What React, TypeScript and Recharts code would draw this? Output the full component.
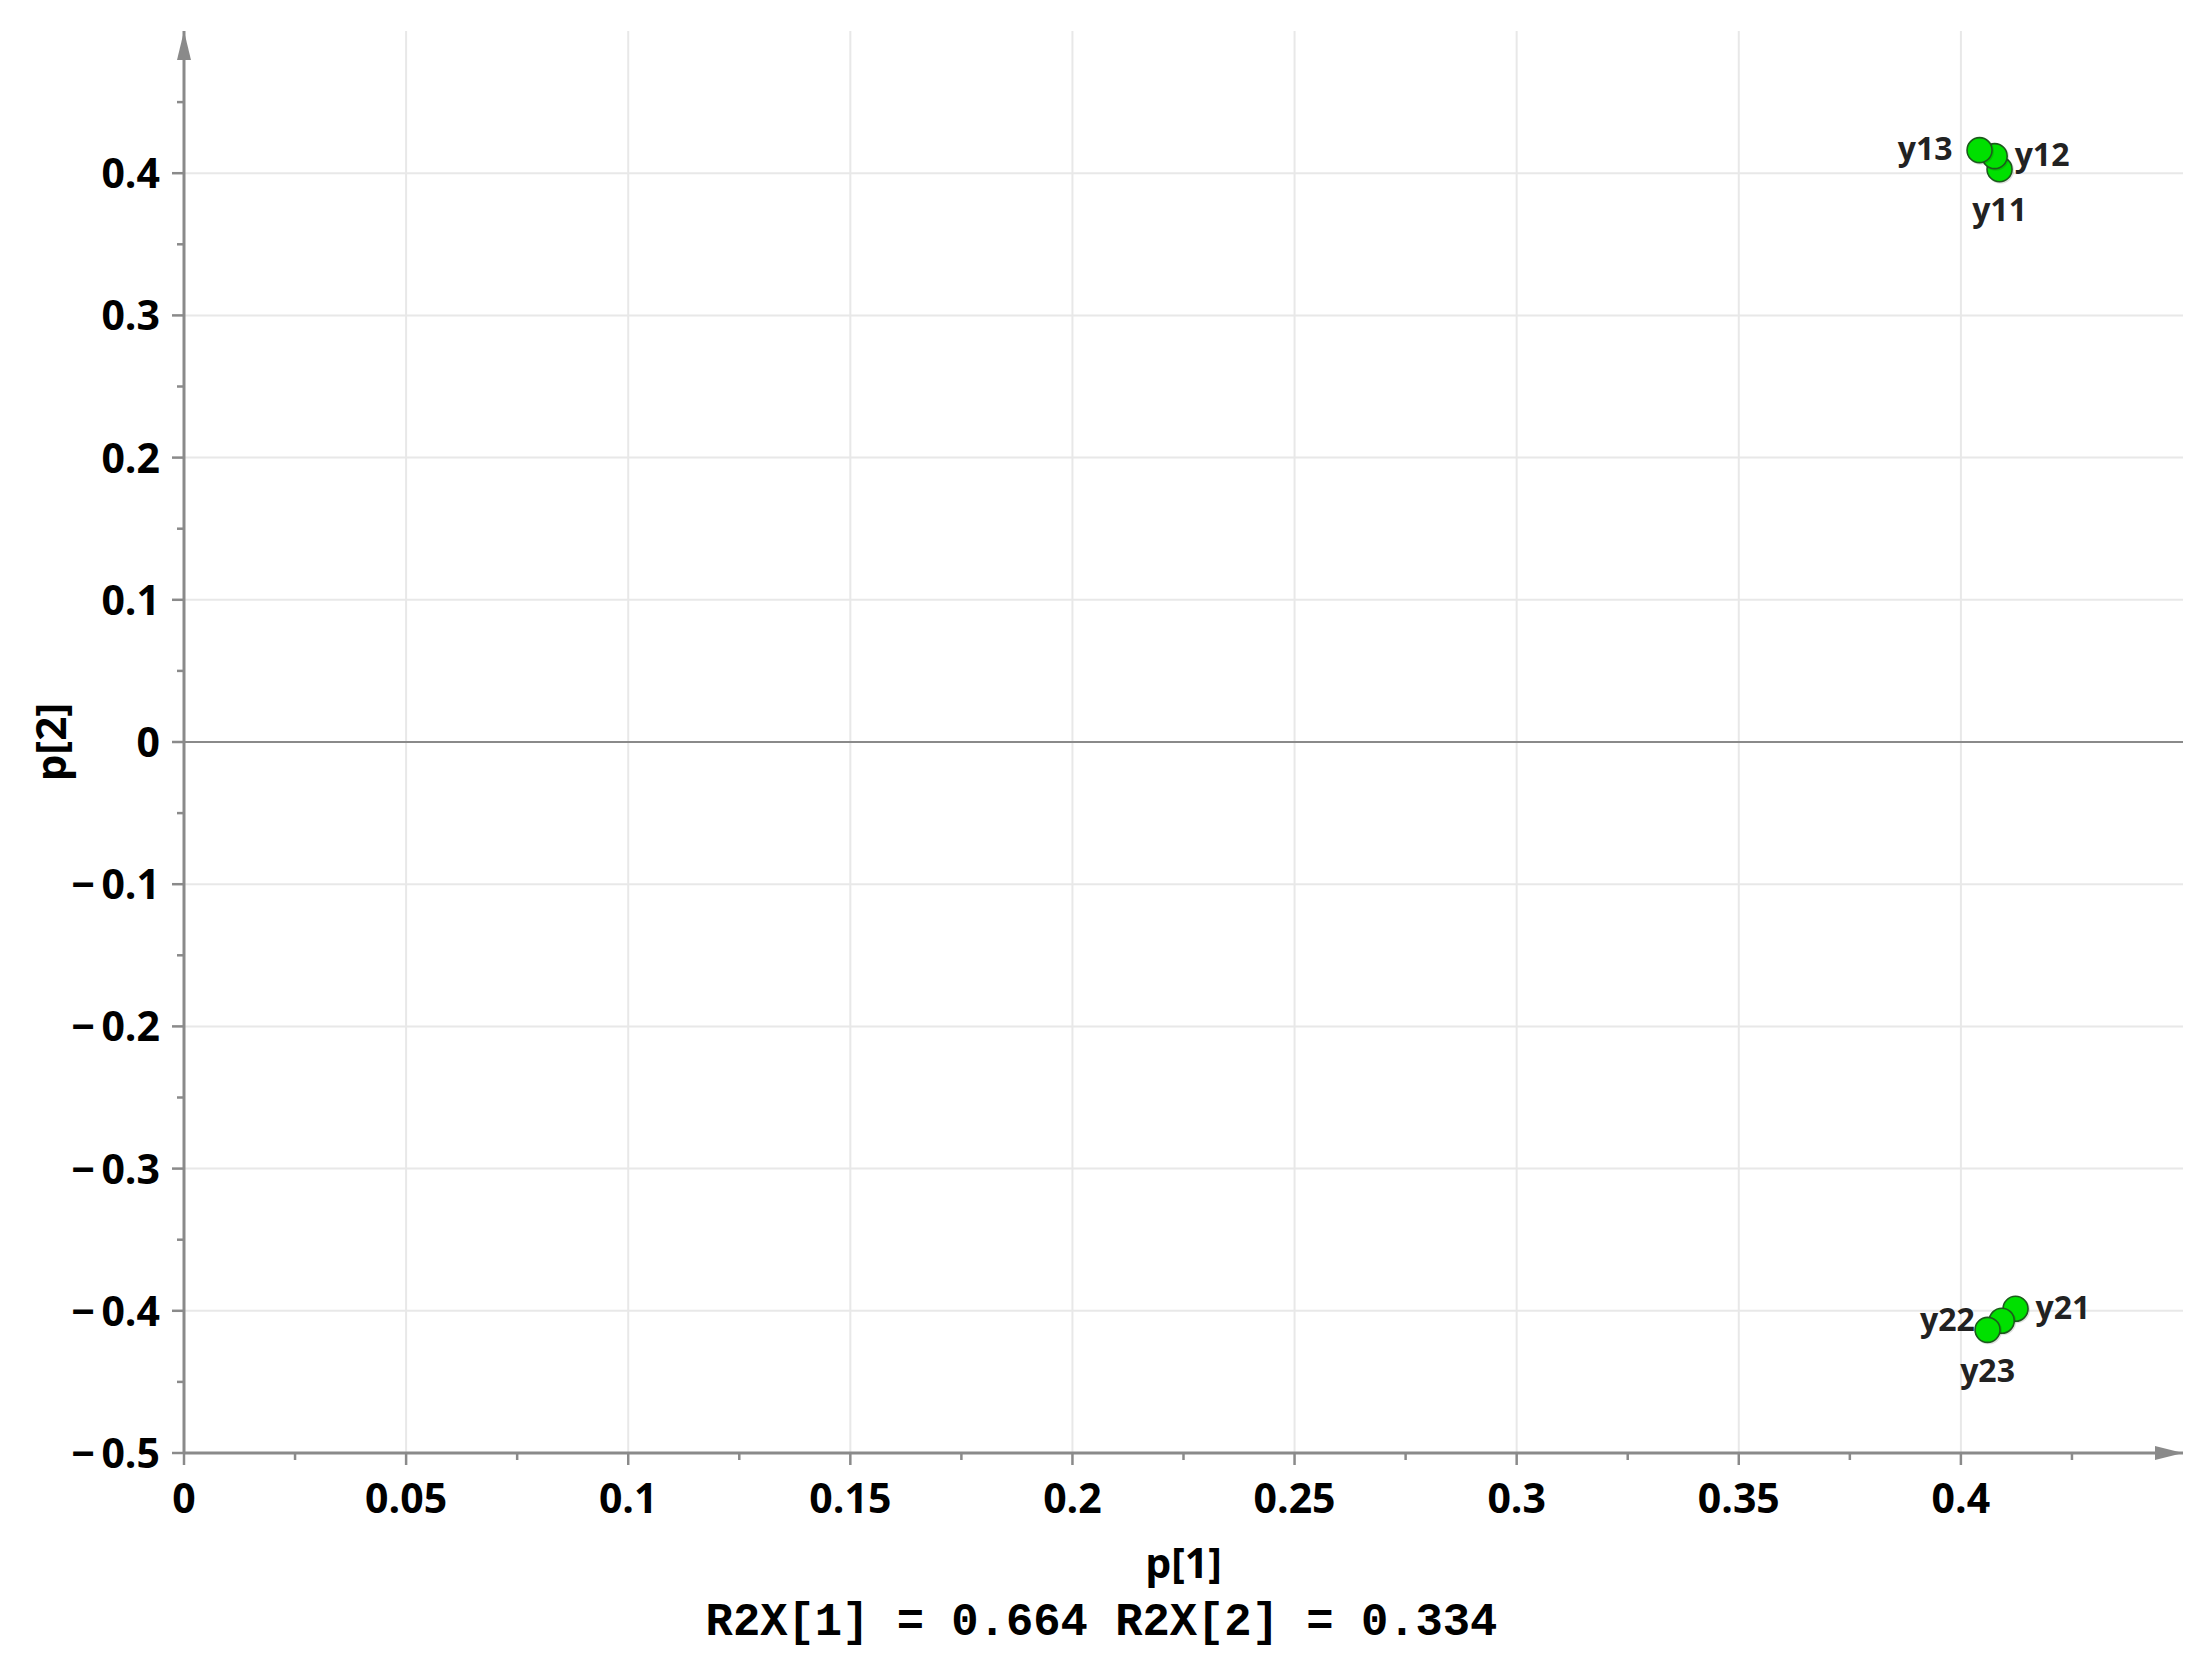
import { ScatterChart, Scatter, XAxis, YAxis, ReferenceLine, ReferenceDot } from 'recharts'

// loadings
const pointNames = ['y11', 'y12', 'y13', 'y21', 'y22', 'y23']
const p1Values = [0.4087, 0.4076, 0.4042, 0.4123, 0.4092, 0.406]
const p2Values = [0.4028, 0.412, 0.4162, -0.3986, -0.407, -0.4134]

const xTicks = [0, 0.025, 0.05, 0.075, 0.1, 0.125, 0.15, 0.175, 0.2, 0.225, 0.25, 0.275, 0.3, 0.325, 0.35, 0.375, 0.4, 0.425]
const xMajor = [0, 0.05, 0.1, 0.15, 0.2, 0.25, 0.3, 0.35, 0.4]
const yTicks = [-0.5, -0.45, -0.4, -0.35, -0.3, -0.25, -0.2, -0.15, -0.1, -0.05, 0, 0.05, 0.1, 0.15, 0.2, 0.25, 0.3, 0.35, 0.4, 0.45]
const yMajor = [-0.5, -0.4, -0.3, -0.2, -0.1, 0, 0.1, 0.2, 0.3, 0.4]

const footnote = 'R2X[1] = 0.664 R2X[2] = 0.334'

const W = 2203
const H = 1662
const AXIS = '#8a8a8a'
const GRID = '#e8e8e8'
const SANS = '"Open Sans", "Noto Sans", sans-serif'

// where each point's name sits relative to its marker
const labelSide: Record<string, 'left' | 'right' | 'below'> = {
  y11: 'below',
  y12: 'right',
  y13: 'left',
  y21: 'right',
  y22: 'left',
  y23: 'below',
}

const data = pointNames.map((name, i) => ({ name, x: p1Values[i], y: p2Values[i] }))

const isMajor = (v: number, list: number[]) => list.some((m) => Math.abs(m - v) < 1e-9)

const fmt = (v: number) => {
  const s = String(Math.round(Math.abs(v) * 1000) / 1000)
  return v < 0 ? '\u2212\u2009' + s : s
}

function XTick(props: any) {
  const { x, y, payload } = props
  const major = isMajor(payload.value, xMajor)
  return (
    <g>
      <line x1={x} x2={x} y1={y} y2={y + (major ? 12 : 7)} stroke={AXIS} strokeWidth={2.5} />
      {major && (
        <text x={x} y={y + 60} textAnchor="middle" fontFamily={SANS} fontWeight={700} fontSize={41} fill="#000">
          {fmt(payload.value)}
        </text>
      )}
    </g>
  )
}

function YTick(props: any) {
  const { x, y, payload } = props
  const major = isMajor(payload.value, yMajor)
  return (
    <g>
      <line x1={x - (major ? 12 : 7)} x2={x} y1={y} y2={y} stroke={AXIS} strokeWidth={2.5} />
      {major && (
        <text x={x - 24} y={y + 15} textAnchor="end" fontFamily={SANS} fontWeight={700} fontSize={41} fill="#000">
          {fmt(payload.value)}
        </text>
      )}
    </g>
  )
}

function Marker(props: any) {
  const { cx, cy, payload } = props
  const side = labelSide[payload.name]
  let lx = cx
  let ly = cy + 10
  let anchor: 'start' | 'end' | 'middle' = 'middle'
  if (side === 'left') {
    lx = cx - 27
    anchor = 'end'
  } else if (side === 'right') {
    lx = cx + 20
    anchor = 'start'
  } else {
    ly = cy + 52
  }
  return (
    <g>
      <circle cx={cx + 1} cy={cy + 1} r={13.5} fill="rgba(0,0,0,0.12)" />
      <circle cx={cx} cy={cy} r={12.5} fill="#00e000" stroke="#1c5a1c" strokeWidth={1.6} />
      <text x={lx} y={ly} textAnchor={anchor} fontFamily={SANS} fontWeight={700} fontSize={32} fill="#222">
        {payload.name}
      </text>
    </g>
  )
}

const RightArrow = (props: any) => {
  const { cx, cy } = props
  return <polygon points={`${cx},${cy} ${cx - 28},${cy - 7} ${cx - 28},${cy + 7}`} fill={AXIS} />
}

const UpArrow = (props: any) => {
  const { cx, cy } = props
  return <polygon points={`${cx},${cy} ${cx - 7},${cy + 29} ${cx + 7},${cy + 29}`} fill={AXIS} />
}

export default function App() {
  return (
    <div style={{ position: 'absolute', left: 0, top: 0, width: W, height: H, background: '#fff' }}>
      <ScatterChart width={W} height={H} margin={{ top: 31, right: 20, left: 0, bottom: 0 }}>
        {xMajor.map((v) => (
          <ReferenceLine key={'gx' + v} x={v} stroke={GRID} strokeWidth={2} />
        ))}
        {yMajor.map((v) => (
          <ReferenceLine key={'gy' + v} y={v} stroke={GRID} strokeWidth={2} />
        ))}
        <ReferenceLine y={0} stroke={AXIS} strokeWidth={2} />
        <XAxis
          type="number"
          dataKey="x"
          domain={[0, 0.45]}
          ticks={xTicks}
          interval={0}
          allowDataOverflow
          height={209}
          tickSize={0}
          tickMargin={0}
          tickLine={false}
          axisLine={{ stroke: AXIS, strokeWidth: 3 }}
          tick={<XTick />}
          label={{
            content: (p: any) => {
              const vb = p.viewBox
              return (
                <g>
                  <text x={vb.x + vb.width / 2} y={vb.y + 125} textAnchor="middle" fontFamily={SANS} fontWeight={700} fontSize={41} fill="#000">
                    p[1]
                  </text>
                  <text x={W / 2} y={vb.y + 182} textAnchor="middle" fontFamily='"Liberation Mono", "DejaVu Sans Mono", monospace' fontWeight={700} fontSize={45.5} fill="#000">
                    {footnote}
                  </text>
                </g>
              )
            },
          }}
        />
        <YAxis
          type="number"
          dataKey="y"
          domain={[-0.5, 0.5]}
          ticks={yTicks}
          interval={0}
          allowDataOverflow
          width={184}
          tickSize={0}
          tickMargin={0}
          tickLine={false}
          axisLine={{ stroke: AXIS, strokeWidth: 3 }}
          tick={<YTick />}
          label={{
            content: (p: any) => {
              const vb = p.viewBox
              const cx = vb.x + 49
              const cy = vb.y + vb.height / 2
              return (
                <text x={cx} y={cy} transform={`rotate(-90 ${cx} ${cy})`} textAnchor="middle" dominantBaseline="central" fontFamily={SANS} fontWeight={700} fontSize={42} fill="#000">
                  p[2]
                </text>
              )
            },
          }}
        />
        <ReferenceDot x={0.45} y={-0.5} ifOverflow="visible" shape={<RightArrow />} />
        <ReferenceDot x={0} y={0.5} ifOverflow="visible" shape={<UpArrow />} />
        <Scatter data={data} shape={<Marker />} isAnimationActive={false} />
      </ScatterChart>
    </div>
  )
}
